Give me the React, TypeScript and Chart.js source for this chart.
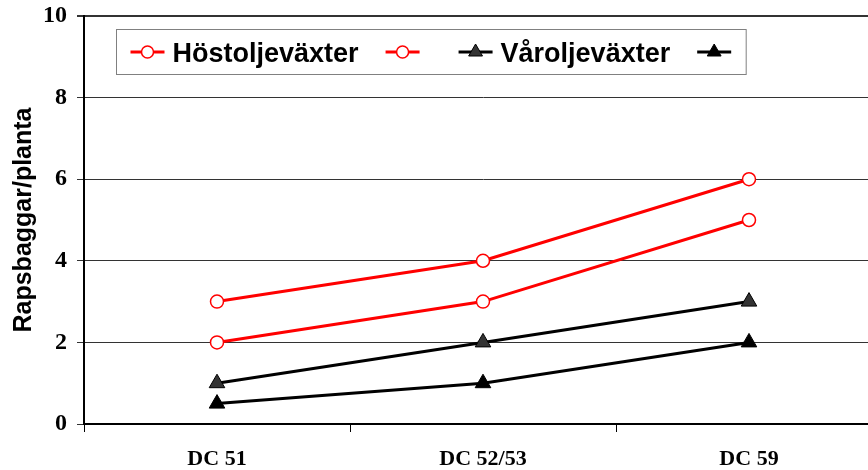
import React, { useEffect, useRef } from 'react';
import { Chart, registerables } from 'chart.js';

Chart.register(...registerables);

const CATEGORIES = ['DC 51', 'DC 52/53', 'DC 59'];
const HOST_UPPER = [3, 4, 6];
const HOST_LOWER = [2, 3, 5];
const VAR_UPPER = [1, 2, 3];
const VAR_LOWER = [0.5, 1, 2];
const SERIES_LABELS = ['Höstoljeväxter', '', 'Våroljeväxter', ''];
const Y_MIN = 0;
const Y_MAX = 10;
const Y_STEP = 2;
const Y_TITLE = 'Rapsbaggar/planta';

const RED = '#FF0000';
const BLACK = '#000000';

function drawMarker(ctx: CanvasRenderingContext2D, style: string, x: number, y: number, r: number, fill: string, stroke: string, bw: number) {
  ctx.save();
  ctx.beginPath();
  if (style === 'circle') {
    ctx.arc(x, y, r, 0, Math.PI * 2);
  } else {
    let rad = 0;
    ctx.moveTo(x + Math.sin(rad) * r, y - Math.cos(rad) * r);
    rad += (2 * Math.PI) / 3;
    ctx.lineTo(x + Math.sin(rad) * r, y - Math.cos(rad) * r);
    rad += (2 * Math.PI) / 3;
    ctx.lineTo(x + Math.sin(rad) * r, y - Math.cos(rad) * r);
    ctx.closePath();
  }
  ctx.fillStyle = fill;
  ctx.fill();
  ctx.lineWidth = bw;
  ctx.strokeStyle = stroke;
  ctx.stroke();
  ctx.restore();
}

const boxedLegend = {
  id: 'boxedLegend',
  afterDraw(chart: any) {
    const ctx: CanvasRenderingContext2D = chart.ctx;
    const area = chart.chartArea;
    const boxLeft = area.left + 32.5;
    const boxTop = area.top + 13.5;
    const boxH = 45;
    const cy = boxTop + boxH / 2;
    const markerW = 34;
    ctx.save();
    ctx.font = 'bold 27px "Liberation Sans", Arial, sans-serif';
    const datasets = chart.data.datasets;
    let x = boxLeft + 14;
    const items: any[] = [];
    datasets.forEach((ds: any, i: number) => {
      const label = ds.label || '';
      const item: any = { ds, markerX: x, label };
      x += markerW;
      if (label) {
        item.textX = x + 8;
        x += 8 + ctx.measureText(label).width;
      } else {
        x += 12;
      }
      items.push(item);
      if (i < datasets.length - 1) x += 27;
    });
    const boxRight = x + 3;
    ctx.fillStyle = '#FFFFFF';
    ctx.fillRect(boxLeft, boxTop, boxRight - boxLeft, boxH);
    ctx.strokeStyle = '#808080';
    ctx.lineWidth = 1;
    ctx.strokeRect(boxLeft, boxTop, boxRight - boxLeft, boxH);
    items.forEach((it) => {
      const ds = it.ds;
      ctx.beginPath();
      ctx.moveTo(it.markerX, cy);
      ctx.lineTo(it.markerX + markerW, cy);
      ctx.lineWidth = 3;
      ctx.strokeStyle = ds.borderColor;
      ctx.stroke();
      drawMarker(ctx, ds.pointStyle, it.markerX + markerW / 2, cy, ds.pointStyle === 'circle' ? 6 : 8,
        ds.pointBackgroundColor, ds.pointBorderColor, ds.pointBorderWidth);
      if (it.label) {
        ctx.fillStyle = '#000';
        ctx.textBaseline = 'alphabetic';
        ctx.textAlign = 'left';
        ctx.fillText(it.label, it.textX, cy + 10);
      }
    });
    ctx.restore();
  },
};

export default function App() {
  const ref = useRef<HTMLCanvasElement | null>(null);

  useEffect(() => {
    if (!ref.current) return;
    const common = { borderWidth: 3, tension: 0, fill: false };
    const chart = new Chart(ref.current, {
      type: 'line',
      data: {
        labels: CATEGORIES,
        datasets: [
          {
            ...common,
            label: SERIES_LABELS[0],
            data: HOST_UPPER,
            borderColor: RED,
            pointStyle: 'circle',
            pointRadius: 6.5,
            pointBackgroundColor: '#FFFFFF',
            pointBorderColor: RED,
            pointBorderWidth: 1.5,
          },
          {
            ...common,
            label: SERIES_LABELS[1],
            data: HOST_LOWER,
            borderColor: RED,
            pointStyle: 'circle',
            pointRadius: 6.5,
            pointBackgroundColor: '#FFFFFF',
            pointBorderColor: RED,
            pointBorderWidth: 1.5,
          },
          {
            ...common,
            label: SERIES_LABELS[2],
            data: VAR_UPPER,
            borderColor: BLACK,
            pointStyle: 'triangle',
            pointRadius: 9,
            pointBackgroundColor: '#333333',
            pointBorderColor: BLACK,
            pointBorderWidth: 1,
          },
          {
            ...common,
            label: SERIES_LABELS[3],
            data: VAR_LOWER,
            borderColor: BLACK,
            pointStyle: 'triangle',
            pointRadius: 9,
            pointBackgroundColor: BLACK,
            pointBorderColor: BLACK,
            pointBorderWidth: 1,
          },
        ],
      },
      options: {
        responsive: false,
        animation: false,
        devicePixelRatio: 1,
        layout: { padding: { top: 16, right: 18, left: 0, bottom: 0 } },
        plugins: {
          legend: { display: false },
          tooltip: { enabled: false },
        },
        scales: {
          x: {
            type: 'category',
            offset: true,
            grid: {
              offset: true,
              drawOnChartArea: false,
              drawTicks: true,
              tickLength: 8,
              color: '#000',
              lineWidth: 1,
            },
            border: { color: '#000', width: 2 },
            ticks: {
              color: '#000',
              padding: 14,
              maxRotation: 0,
              font: { family: '"Liberation Serif", "Times New Roman", serif', weight: 'bold', size: 22 },
            },
            afterFit: (s: any) => {
              s.height = 46;
              s.paddingLeft = 0;
              s.paddingRight = 0;
            },
          },
          y: {
            min: Y_MIN,
            max: Y_MAX,
            ticks: {
              stepSize: Y_STEP,
              color: '#000',
              padding: 10,
              font: { family: '"Liberation Serif", "Times New Roman", serif', weight: 'bold', size: 24 },
            },
            grid: {
              color: '#333',
              lineWidth: (c: any) => (c.tick && c.tick.value === Y_MAX ? 2 : 1),
              tickLength: 7,
              drawTicks: true,
            },
            border: { color: '#000', width: 2 },
            title: {
              display: true,
              text: Y_TITLE,
              color: '#000',
              padding: { top: 9, bottom: 0 },
              font: { family: '"Liberation Sans", Arial, sans-serif', weight: 'bold', size: 25 },
            },
            afterFit: (s: any) => {
              s.width = 84;
              s.paddingTop = 0;
              s.paddingBottom = 0;
            },
          },
        },
      },
      plugins: [boxedLegend],
    } as any);
    return () => chart.destroy();
  }, []);

  return (
    <div style={{ position: 'absolute', left: 0, top: 0, width: 868, height: 470, overflow: 'hidden', background: '#fff' }}>
      <canvas ref={ref} width={900} height={470} style={{ display: 'block', width: 900, height: 470 }} />
    </div>
  );
}
